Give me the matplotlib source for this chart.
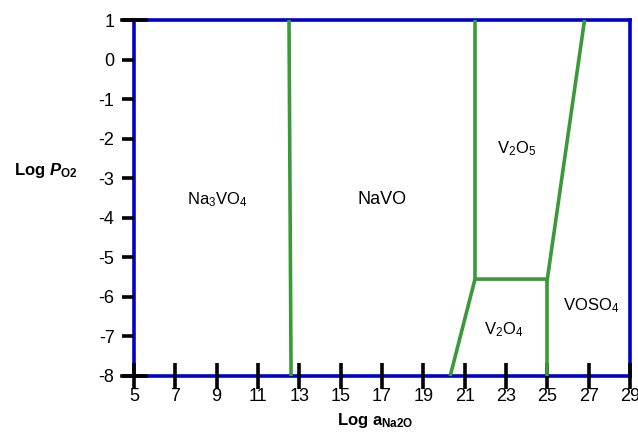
import numpy as np
import matplotlib.pyplot as plt

plt.rcParams['font.family'] = ['Liberation Sans', 'DejaVu Sans']
plt.rcParams['axes.unicode_minus'] = False
plt.rcParams['mathtext.fontset'] = 'custom'
plt.rcParams['mathtext.rm'] = 'Liberation Sans'
plt.rcParams['mathtext.it'] = 'Liberation Sans:italic'
plt.rcParams['mathtext.bf'] = 'Liberation Sans:bold'
plt.rcParams['mathtext.bfit'] = 'Liberation Sans:bold:italic'

# phase boundaries (log a_Na2O, log P_O2)
b1_x = [12.5, 12.6]
b1_y = [1, -8]
b2_x = [21.5, 21.5, 25.0, 26.8]
b2_y = [1, -5.55, -5.55, 1]
b3_x = [20.3, 21.5]
b3_y = [-8, -5.55]
b4_x = [25.0, 25.0]
b4_y = [-5.55, -8]

labels = ['Na$_3$VO$_4$', 'NaVO', 'V$_2$O$_5$', 'V$_2$O$_4$', 'VOSO$_4$']
lab_x = [9.05, 17.0, 23.5, 22.9, 27.1]
lab_y = [-3.53, -3.53, -2.26, -6.84, -6.23]
lab_size = [12, 13, 12, 12, 12]

xticks = np.arange(5, 30, 2)
yticks = np.arange(-8, 2, 1)

fig = plt.figure(figsize=(6.38, 4.32), dpi=100)
ax = fig.add_axes([134/638, 1-376/432, (630-134)/638, (376-20)/432])

green = '#3a9a3a'
for xs, ys in [(b1_x, b1_y), (b2_x, b2_y), (b3_x, b3_y), (b4_x, b4_y)]:
    ax.plot(xs, ys, color=green, lw=2.6, solid_capstyle='butt', clip_on=False)

for t, x, y, s in zip(labels, lab_x, lab_y, lab_size):
    ax.text(x, y, t, ha='center', va='center', fontsize=s)

ax.set_xlim(5, 29)
ax.set_ylim(-8, 1)
ax.set_xticks(xticks)
ax.set_yticks(yticks)
ax.tick_params(axis='x', direction='inout', length=19, width=2.6, color='black',
               labelsize=13, pad=-1)
ax.tick_params(axis='y', direction='out', length=9, width=2.6, color='black',
               labelsize=13, pad=5)
for sp in ax.spines.values():
    sp.set_color('#0000cc')
    sp.set_linewidth(2.6)
    sp.set_zorder(1)

# extra ticks crossing the corners on the left
for yv in [1, -8]:
    ax.plot([4.4, 5.6], [yv, yv], color='black', lw=2.6, clip_on=False, zorder=5)

fig.text(375/638, 1-420/432, 'Log a$_{\\mathbf{Na2O}}$', ha='center', va='center',
         fontsize=12, fontweight='bold')
fig.text(46/638, 1-171/432, 'Log $\\boldsymbol{P}_{\\mathbf{O2}}$', ha='center', va='center',
         fontsize=12, fontweight='bold')

fig.savefig('out.png', dpi=100)
